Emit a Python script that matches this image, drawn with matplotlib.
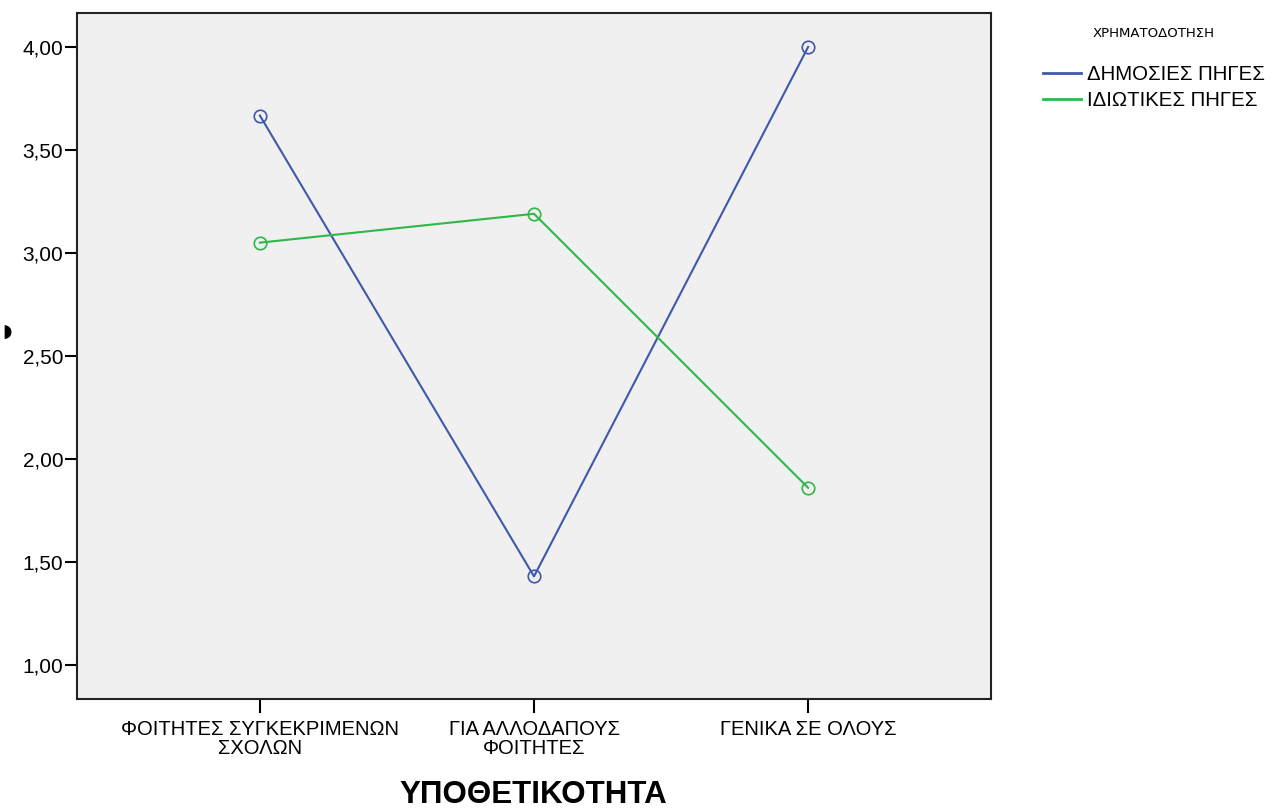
import matplotlib
matplotlib.use("Agg")
import matplotlib.pyplot as plt
from matplotlib.lines import Line2D
from matplotlib.ticker import FuncFormatter

# categories on x axis and the two funding series
categories = ["ΦΟΙΤΗΤΕΣ ΣΥΓΚΕΚΡΙΜΕΝΩΝ\nΣΧΟΛΩΝ", "ΓΙΑ ΑΛΛΟΔΑΠΟΥΣ\nΦΟΙΤΗΤΕΣ", "ΓΕΝΙΚΑ ΣΕ ΟΛΟΥΣ"]
public_vals = [3.667, 1.43, 4.00]
private_vals = [3.05, 3.19, 1.86]
series_names = ["ΔΗΜΟΣΙΕΣ ΠΗΓΕΣ", "ΙΔΙΩΤΙΚΕΣ ΠΗΓΕΣ"]
yticks = [1.0, 1.5, 2.0, 2.5, 3.0, 3.5, 4.0]
blue = "#3e58ac"
green = "#2eb848"

plt.rcParams["font.family"] = ["Liberation Sans", "DejaVu Sans"]

fig = plt.figure(figsize=(12.8, 8.09), dpi=100)
ax = fig.add_axes([0.0602, 0.136, 0.714, 0.848])
ax.set_facecolor("#f0f0f0")

x = list(range(len(categories)))
ax.plot(x, public_vals, color=blue, lw=1.5, marker="o", ms=9,
        mfc="none", mec=blue, mew=1.2)
ax.plot(x, private_vals, color=green, lw=1.5, marker="o", ms=9,
        mfc="none", mec=green, mew=1.2)

ax.set_xlim(-0.667, 2.667)
ax.set_ylim(0.835, 4.165)
ax.set_xticks(x)
ax.set_xticklabels(categories, fontsize=14.5, linespacing=0.98)
ax.set_yticks(yticks)
ax.yaxis.set_major_formatter(FuncFormatter(lambda v, p: f"{v:.2f}".replace(".", ",")))
ax.tick_params(axis="y", labelsize=15, length=9, width=1.5, pad=1)
ax.tick_params(axis="x", length=10, width=1.5, pad=5)
for s in ax.spines.values():
    s.set_linewidth(1.5)
    s.set_color("#222222")

fig.text(533 / 1280, 1 - 795 / 809, "ΥΠΟΘΕΤΙΚΟΤΗΤΑ", fontsize=22.5,
         fontweight="bold", ha="center", va="center")

# clipped y label remnant on the left edge
fig.text(0.002, 1 - 332 / 809, "◗", fontsize=13, va="center", ha="left",
         family="DejaVu Sans")

handles = [Line2D([], [], color=blue, lw=2), Line2D([], [], color=green, lw=2)]
leg = ax.legend(handles, series_names, loc="upper left",
                bbox_to_anchor=(1043 / 1280, 1 - 27 / 809),
                bbox_transform=fig.transFigure, frameon=False, fontsize=14.7,
                title="ΧΡΗΜΑΤΟΔΟΤΗΣΗ", handlelength=1.86,
                handletextpad=0.3, labelspacing=0.33, borderaxespad=0, borderpad=0)
leg.get_title().set_fontsize(9.5)
leg.get_title().set_family("DejaVu Sans")
leg._legend_box.sep = 18

fig.savefig("out.png", dpi=100)
